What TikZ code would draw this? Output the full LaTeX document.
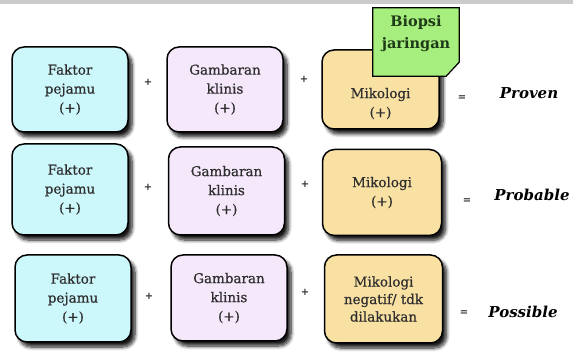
\documentclass[tikz,border=0pt]{standalone}
\usepackage{fontspec}
\setmainfont{DejaVu Serif}
\newfontfamily\boxfont{DejaVu Serif}[FakeBold=0.6]
\usetikzlibrary{shadows.blur}
\definecolor{cyanfill}{HTML}{CCF7FB}
\definecolor{lavfill}{HTML}{F6E8FB}
\definecolor{tanfill}{HTML}{F9E1A4}
\definecolor{greenfill}{HTML}{A6EE7E}
\definecolor{boxtext}{HTML}{2E2E2E}
\definecolor{biotext}{HTML}{1E3A16}
\definecolor{topbar}{HTML}{CBCBCB}
\tikzset{
  box/.style={draw=black, line width=1.5pt, rounded corners=12pt, align=center,
    text=boxtext, font=\boxfont\fontsize{13.5}{19}\selectfont,
    blur shadow={shadow xshift=4pt, shadow yshift=-5pt, shadow blur radius=3.5pt, shadow blur steps=8, shadow opacity=90}},
  boxlabel/.style={align=center, text=boxtext, font=\boxfont\fontsize{13.5}{19}\selectfont},
  op/.style={text=boxtext, font=\fontsize{10}{12}\selectfont\bfseries},
  result/.style={font=\fontsize{15}{19}\selectfont\bfseries\itshape, text=black},
  bioarea/.style={minimum width=86pt, minimum height=68pt, inner sep=0pt},
  bioshape/.style={draw=black, line width=1.2pt, fill=greenfill, line join=miter},
  biolabel/.style={align=center, text=biotext, font=\fontsize{14.5}{22}\selectfont\bfseries}
}
\begin{document}
\begin{tikzpicture}[x=1pt,y=-1pt]
\useasboundingbox (0,0) rectangle (573,352);
\fill[topbar] (0,0) rectangle (573,4);
% row 1
\node[box, fill=cyanfill, minimum width=116pt, minimum height=85pt] (f1) at (70,89.5) {Faktor\\pejamu\\(+)};
\node[box, fill=lavfill, minimum width=116pt, minimum height=85pt] (g1) at (225,89.5) {Gambaran\\klinis\\(+)};
\node[box, fill=tanfill, minimum width=117pt, minimum height=79pt] (m1) at (380.5,89.5) {};
\node[boxlabel] (m1t) at (380.5,103.5) {Mikologi\\(+)};
\node[bioarea] (bio) at (416,42) {};
\draw[bioshape] (bio.north west) -- (bio.north east) -- ([yshift=14pt]bio.south east)
  -- ([xshift=-13pt]bio.south east) -- (bio.south west) -- cycle;
\node[biolabel] (biot) at (416,34) {Biopsi\\jaringan};
\node[op] (p11) at (148,82) {+};
\node[op] (p12) at (304,79) {+};
\node[op] (e1) at (462,98) {=};
\node[result] (r1) at (529,93) {Proven};
% row 2
\node[box, fill=cyanfill, minimum width=116pt, minimum height=91pt] (f2) at (70,189.5) {Faktor\\pejamu\\(+)};
\node[box, fill=lavfill, minimum width=116pt, minimum height=88pt] (g2) at (226.5,191) {Gambaran\\klinis\\(+)};
\node[box, fill=tanfill, minimum width=119pt, minimum height=86pt] (m2) at (382,192.5) {Mikologi\\(+)};
\node[op] (p21) at (148,187) {+};
\node[op] (p22) at (305,184) {+};
\node[op] (e2) at (467,201) {=};
\node[result] (r2) at (532,195) {Probable};
% row 3
\node[box, fill=cyanfill, minimum width=116pt, minimum height=87pt] (f3) at (73,298.5) {Faktor\\pejamu\\(+)};
\node[box, fill=lavfill, minimum width=116pt, minimum height=86pt] (g3) at (229,298) {Gambaran\\klinis\\(+)};
\node[box, fill=tanfill, minimum width=118pt, minimum height=88pt, font=\boxfont\fontsize{13.5}{17.5}\selectfont] (m3) at (383.5,299) {Mikologi\\negatif/ tdk\\dilakukan};
\node[op] (p31) at (149,296) {+};
\node[op] (p32) at (305,292) {+};
\node[op] (e3) at (464,313) {=};
\node[result] (r3) at (523,312) {Possible};
\end{tikzpicture}
\end{document}
